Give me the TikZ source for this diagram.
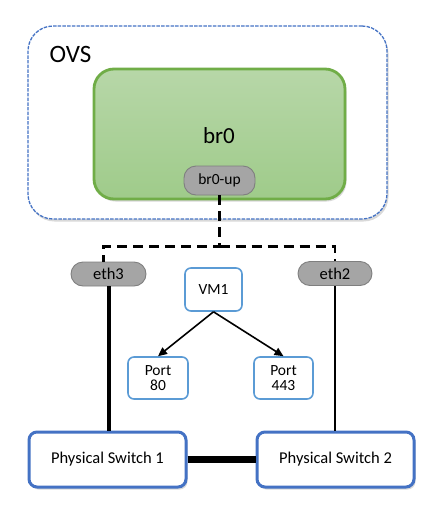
\documentclass[tikz,border=0pt]{standalone}
\usepackage{fontspec}
\setmainfont{Carlito}
\usetikzlibrary{arrows.meta,shadows}
\definecolor{ovsblue}{HTML}{4472C4}
\definecolor{lblue}{HTML}{5B9BD5}
\definecolor{gborder}{HTML}{70AD47}
\definecolor{gtop}{HTML}{B7D7A8}
\definecolor{gbot}{HTML}{9FCB8A}
\definecolor{portgray}{HTML}{A5A5A5}
\definecolor{portedge}{HTML}{7F7F7F}
\tikzset{
  fs/.style={font=\fontsize{#1}{#1}\selectfont},
  softshadow/.style={drop shadow={shadow xshift=1.5pt,shadow yshift=-2.5pt,opacity=0.25,fill=black!60}},
  ovsbox/.style={draw=ovsblue,line width=1.3pt,dash pattern=on 3.5pt off 1.2pt,rounded corners=25pt,fill=white,softshadow,minimum width=359pt,minimum height=193pt},
  brbox/.style={draw=gborder,line width=2.8pt,rounded corners=20pt,top color=gtop,bottom color=gbot,softshadow,minimum width=251pt,minimum height=130pt},
  portpill/.style={draw=portedge,line width=0.9pt,fill=portgray,rounded corners=12pt,inner sep=0pt},
  vmbox/.style={draw=lblue,line width=1.6pt,rounded corners=6pt,fill=white,inner sep=0pt,align=center},
  swbox/.style={draw=ovsblue,line width=3pt,rounded corners=8pt,fill=white,softshadow,minimum width=157pt,minimum height=55pt,inner sep=0pt,fs=16.5},
  dashline/.style={line width=2.8pt,dash pattern=on 10pt off 6pt},
  arr/.style={line width=1.6pt,-{Triangle[length=9pt,width=8pt]}}
}
\begin{document}
\begin{tikzpicture}[x=1pt,y=-1pt]
\useasboundingbox (0,0) rectangle (435,520);
\node[ovsbox] (ovs) at (207.5,122.5) {};
\node[fs=25,anchor=west] (ovslabel) at (46,54) {OVS};
\node[brbox] (br0) at (219.5,134) {};
\node[fs=23] (br0label) at (219,136) {br0};
\node[portpill,minimum width=71pt,minimum height=29pt,fs=15.5] (br0up) at (219.5,180.5) {br0-up};

\node[portpill,minimum width=75pt,minimum height=24pt,fs=16.5] (eth3) at (108.5,274) {eth3};
\node[portpill,minimum width=74pt,minimum height=24pt,fs=16.5] (eth2) at (335,273.5) {eth2};

\node[vmbox,minimum width=57pt,minimum height=43pt,fs=15.5] (vm1) at (213.5,289.5) {VM1};
\node[vmbox,minimum width=60pt,minimum height=42pt,fs=15.5] (p80) at (158,378) {Port\\[-1pt]80};
\node[vmbox,minimum width=59pt,minimum height=42pt,fs=15.5] (p443) at (283.5,378) {Port\\[-1pt]443};

\node[swbox] (ps1) at (107.5,459.5) {Physical Switch 1};
\node[swbox] (ps2) at (335.5,459.5) {Physical Switch 2};

\draw[dashline] (br0up.south) -- ++(0,51) -| ([xshift=-5pt]eth3.north);
\draw[dashline] (br0up.south) ++(0,51) -| (eth2.north);

\draw[line width=4pt] (eth3.south) -- (eth3.south |- ps1.north);
\draw[line width=2.5pt] (eth2.south) -- (eth2.south |- ps2.north);
\draw[line width=6.5pt] (ps1.east) -- (ps2.west);

\draw[arr] (vm1.south) -- (p80.north);
\draw[arr] (vm1.south) -- (p443.north);
\end{tikzpicture}
\end{document}
